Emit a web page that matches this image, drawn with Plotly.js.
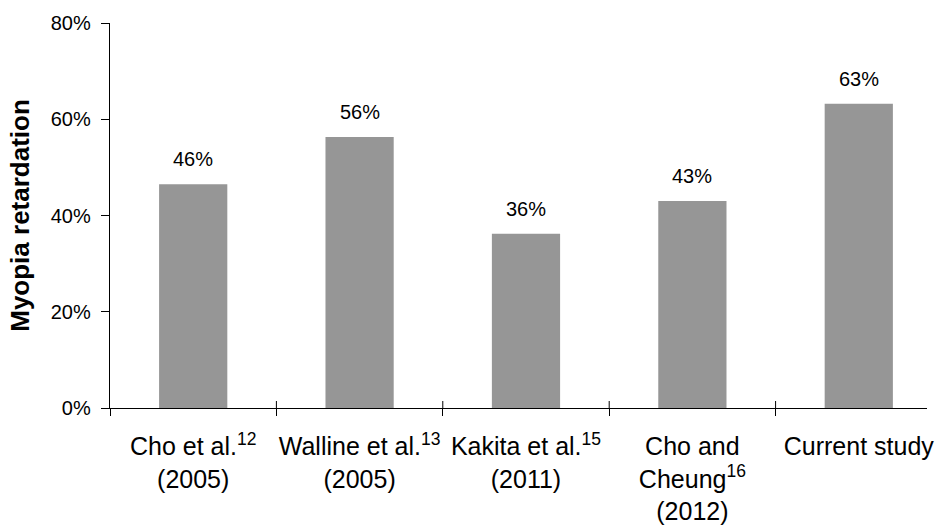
<!DOCTYPE html>
<html>
<head>
<meta charset="utf-8">
<script src="https://cdn.plot.ly/plotly-3.0.1.min.js"></script>
<style>html,body{margin:0;padding:0;background:#fff;}</style>
</head>
<body>
<div id="chart" style="width:935px;height:529px;"></div>
<script>
const categories = ["Cho et al.<sup>12</sup><br>(2005)", "Walline et al.<sup>13</sup><br>(2005)", "Kakita et al.<sup>15</sup><br>(2011)", "Cho and<br>Cheung<sup>16</sup><br>(2012)", "Current study"];
const values = [46.5, 56.3, 36.2, 43.0, 63.2];
const valueLabels = ["46%", "56%", "36%", "43%", "63%"];
const yTicks = [0, 20, 40, 60, 80];
const yTickText = ["0%", "20%", "40%", "60%", "80%"];

const FONT = "Liberation Sans, Arial, sans-serif";

const trace = {
  type: "bar",
  x: categories,
  y: values,
  width: 0.41,
  marker: {color: "#969696"},
  hoverinfo: "skip"
};

const annotations = categories.map((c, i) => ({
  x: c, y: values[i], xref: "x", yref: "y",
  text: valueLabels[i], showarrow: false,
  yanchor: "middle", yshift: 25,
  font: {family: FONT, size: 20, color: "#000"}
}));

// upward half of the crossing tick marks, at the category boundaries
const shapes = categories.slice(1).map((c, i) => ({
  type: "line", xref: "x", yref: "y",
  x0: i + 0.5, x1: i + 0.5,
  ysizemode: "pixel", yanchor: 0, y0: 0, y1: 7,
  line: {color: "#000", width: 1}
}));

const layout = {
  width: 935, height: 529,
  margin: {l: 110, r: 8, t: 23, b: 121},
  paper_bgcolor: "#fff", plot_bgcolor: "#fff",
  showlegend: false,
  font: {family: FONT, color: "#000"},
  xaxis: {
    type: "category",
    categoryorder: "array", categoryarray: categories,
    range: [-0.5, 4.41],
    showline: true, linecolor: "#000", linewidth: 1.3,
    ticks: "outside", ticklen: 7, tickwidth: 1, tickcolor: "#000",
    tickson: "boundaries",
    tickangle: 0,
    ticklabelstandoff: 16,
    tickfont: {family: FONT, size: 25, color: "#000"},
    showgrid: false, zeroline: false, fixedrange: true
  },
  yaxis: {
    range: [0, 80],
    tickmode: "array", tickvals: yTicks, ticktext: yTickText,
    showline: true, linecolor: "#000", linewidth: 1.3,
    ticks: "outside", ticklen: 8, tickwidth: 1, tickcolor: "#000",
    ticklabelstandoff: 6,
    tickfont: {family: FONT, size: 20, color: "#000"},
    showgrid: false, zeroline: false, fixedrange: true,
    title: {text: "Myopia retardation", standoff: 13,
            font: {family: FONT, size: 26, color: "#000", weight: "bold"}}
  },
  shapes: shapes,
  annotations: annotations
};

Plotly.newPlot("chart", [trace], layout, {displayModeBar: false, staticPlot: true});
</script>
</body>
</html>
